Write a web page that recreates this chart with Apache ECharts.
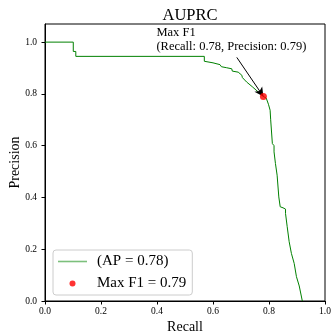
<!DOCTYPE html>
<html><head><meta charset="utf-8">
<script src="https://cdn.jsdelivr.net/npm/echarts@6/dist/echarts.min.js"></script>
<style>html,body{margin:0;padding:0;background:#fff}#c{width:331px;height:334px}</style>
</head><body><div id="c"></div>
<script>
const recall = [0, 0.101, 0.101, 0.11, 0.11, 0.569, 0.569, 0.6, 0.625, 0.63, 0.649, 0.667, 0.669, 0.69, 0.703, 0.705, 0.72, 0.74, 0.762, 0.78, 0.79, 0.798, 0.804, 0.806, 0.81, 0.812, 0.818, 0.818, 0.823, 0.829, 0.835, 0.84, 0.85, 0.859, 0.859, 0.865, 0.872, 0.88, 0.89, 0.898, 0.908, 0.919];
const precision = [1.0, 1.0, 0.964, 0.964, 0.945, 0.945, 0.926, 0.92, 0.913, 0.905, 0.901, 0.897, 0.888, 0.884, 0.872, 0.863, 0.846, 0.828, 0.807, 0.79, 0.784, 0.76, 0.737, 0.70, 0.698, 0.608, 0.6, 0.576, 0.531, 0.486, 0.402, 0.364, 0.36, 0.355, 0.338, 0.287, 0.229, 0.184, 0.145, 0.094, 0.058, 0.0];
const maxF1Point = [0.78, 0.79];
const apLabel = '(AP = 0.78)';
const f1Label = 'Max F1 = 0.79';
const annotText = 'Max F1\n(Recall: 0.78, Precision: 0.79)';
const annotTextPos = [0.398, 0.955];
const arrowStart = [0.685, 0.941];

const font = 'Liberation Serif, DejaVu Serif, serif';
const lineIcon = 'path://M0,0 M29,14 M0,6.2 L29,6.2 L29,7.8 L0,7.8 Z';
const dotIcon = 'path://M0,0 M29,14 M11.5,7 A3,3 0 1,1 17.5,7 A3,3 0 1,1 11.5,7 Z';
const chart = echarts.init(document.getElementById('c'), null, {renderer: 'canvas'});
chart.setOption({
  animation: false,
  title: {text: 'AUPRC', left: 185, textAlign: 'center', top: 2,
    textStyle: {fontFamily: font, fontSize: 16.5, fontWeight: 'normal', color: '#000'}},
  grid: {left: 45, right: 6, top: 24, bottom: 33, show: true, borderColor: '#000', borderWidth: 1,
    containLabel: false, outerBoundsMode: 'none'},
  xAxis: {type: 'value', min: 0, max: 1, interval: 0.2,
    name: 'Recall', nameLocation: 'middle', nameGap: 19, nameMoveOverlap: false,
    nameTextStyle: {fontFamily: font, fontSize: 14, color: '#000'},
    axisLine: {lineStyle: {color: '#000'}}, axisTick: {length: 3.5, lineStyle: {color: '#000'}},
    axisLabel: {fontFamily: font, fontSize: 9.5, color: '#000', margin: 5, formatter: v => v.toFixed(1)},
    splitLine: {show: false}},
  yAxis: {type: 'value', min: 0, max: 1.07, interval: 0.2,
    name: 'Precision', nameLocation: 'middle', nameGap: 23, nameRotate: 90, nameMoveOverlap: false,
    nameTextStyle: {fontFamily: font, fontSize: 14, color: '#000'},
    axisLine: {show: true, lineStyle: {color: '#000'}}, axisTick: {show: true, length: 3.5, lineStyle: {color: '#000'}},
    axisLabel: {fontFamily: font, fontSize: 9.5, color: '#000', margin: 8, showMaxLabel: false, formatter: v => v.toFixed(1)},
    splitLine: {show: false}},
  legend: {orient: 'vertical', left: 53, top: 250, itemWidth: 29, itemHeight: 14, itemGap: 7,
    padding: [4, 6, 4, 5], borderColor: '#ccc', borderWidth: 1, borderRadius: 3,
    textStyle: {fontFamily: font, fontSize: 15, lineHeight: 14, color: '#000', padding: [0, 0, 0, 5]},
    data: [{name: apLabel, icon: lineIcon, itemStyle: {color: '#7cc07c'}},
           {name: f1Label, icon: dotIcon, itemStyle: {color: '#ff0000'}}]},
  series: [
    {name: apLabel, type: 'line', symbol: 'none', data: recall.map((r, i) => [r, precision[i]]),
      lineStyle: {color: '#008000', width: 1}, itemStyle: {color: '#008000'},
      markLine: {silent: true, symbol: ['none', 'arrow'], symbolSize: [7, 9],
        lineStyle: {color: '#000', width: 1, type: 'solid', curveness: -0.25},
        label: {show: false},
        data: [[{coord: arrowStart}, {coord: maxF1Point}]]},
      markPoint: {silent: true, symbol: 'circle', symbolSize: 0,
        data: [{coord: annotTextPos, label: {show: true, formatter: annotText, position: 'right', distance: 0,
          align: 'left', verticalAlign: 'bottom', fontFamily: font, fontSize: 12.5, lineHeight: 14, color: '#000'}}]}},
    {name: f1Label, type: 'scatter', symbol: 'circle', symbolSize: 7, data: [maxF1Point],
      itemStyle: {color: '#ff0000'}, z: 5}
  ]
});
</script></body></html>
